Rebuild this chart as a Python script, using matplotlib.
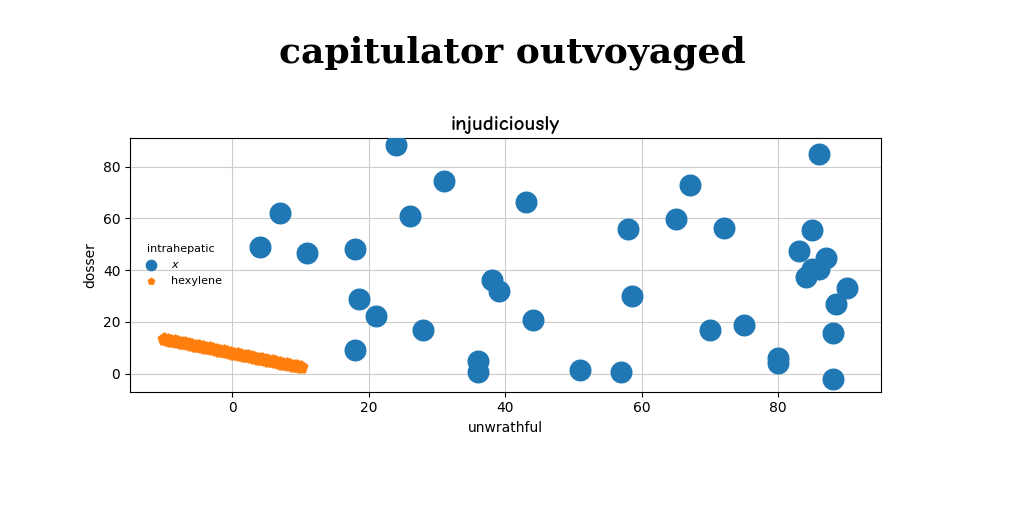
import numpy as np
import matplotlib
matplotlib.use("Agg")
import matplotlib.pyplot as plt

# blue scatter series "x"
x_vals = [4, 7, 11, 18, 18.5, 18, 21, 24, 26, 28, 31, 36, 36, 38, 39, 43, 44, 51, 57,
          58, 58.5, 65, 67, 70, 72, 75, 80, 80, 83, 84, 85, 85, 86, 86, 87, 88, 88.5, 88, 90]
y_vals = [48.8, 62, 46.5, 48, 29, 9, 22.4, 88.5, 61, 17, 74.4, 4.8, 0.8, 36, 32, 66.5, 20.6, 1.3, 0.8,
          56, 30, 59.6, 72.8, 17, 56.3, 18.6, 6, 4, 47.3, 37.4, 40.5, 55.5, 40.6, 85, 44.7, -2, 26.8, 15.8, 33]

# orange pentagon series "hexylene"
hex_x = list(np.linspace(-10, 10, 40))
hex_y = list(np.linspace(13.3, 2.5, 40))

fig, ax = plt.subplots(figsize=(10.24, 5.12), dpi=100)
fig.subplots_adjust(left=0.127, right=0.86, top=0.73, bottom=0.235)

ax.scatter(x_vals, y_vals, s=220, color="#1f77b4", label="$x$", zorder=3)
ax.scatter(hex_x, hex_y, s=90, marker="p", color="#ff7f0e", label="hexylene", zorder=3)

ax.set_xlim(-15, 95)
ax.set_ylim(-7, 91)
ax.set_xticks([0, 20, 40, 60, 80])
ax.set_yticks([0, 20, 40, 60, 80])
ax.grid(True, color="#cccccc")
ax.set_axisbelow(True)
ax.set_xlabel("unwrathful")
ax.set_ylabel("dosser")
ax.set_title("injudiciously", fontsize=15, fontweight="bold", family="Comic Neue")
fig.suptitle("capitulator outvoyaged", fontsize=26, fontweight="bold",
             family="DejaVu Serif", y=0.93)

ax.legend(title="intrahepatic", loc="center left", frameon=False,
          fontsize=8, title_fontsize=8, markerscale=0.5)

fig.savefig("out.png", dpi=100)
